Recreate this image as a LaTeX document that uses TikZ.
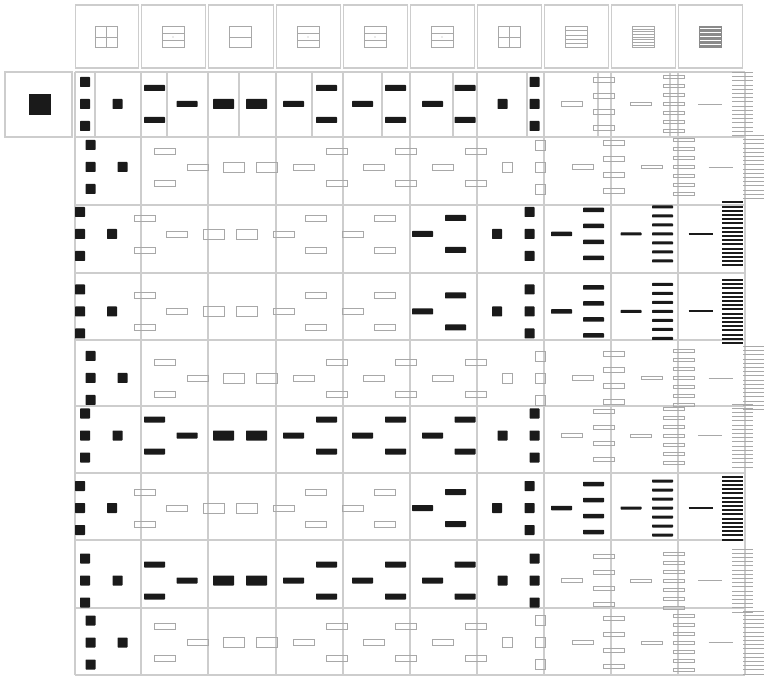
\documentclass[tikz,border=0pt]{standalone}
\definecolor{ink}{HTML}{1A1A1A}
\definecolor{gridc}{HTML}{CDCDCD}
\definecolor{holc}{HTML}{A8A8A8}
\definecolor{icond}{HTML}{8A8A8A}
\tikzset{
  blk/.style={fill=ink,draw=none,rounded corners=0.6pt},
  hol/.style={draw=holc,line width=0.7pt},
  blkl/.style={draw=ink,line width=2pt},
  holl/.style={draw=holc,line width=0.9pt},
  gridl/.style={draw=gridc,line width=1.5pt},
  subl/.style={draw=gridc,line width=1.2pt},
  icon/.style={draw=holc,line width=0.6pt},
  icondark/.style={draw=icond,line width=0.7pt}
}
% rectangle centred at (x,y) of width w, height h
\newcommand\Rc[5]{\path[#5] ({#1-#3/2},{#2-#4/2}) rectangle ({#1+#3/2},{#2+#4/2});}
% column element groups: {x single}{x group}{y}{style}
\newcommand\ColSq[4]{\Rc{#1}{#3}{10}{10}{#4}\foreach \d in {-22,0,22}{\Rc{#2}{#3+\d}{10}{10}{#4}}}
\newcommand\ColBar[4]{\Rc{#1}{#3}{21}{6}{#4}\Rc{#2}{#3-16}{21}{6}{#4}\Rc{#2}{#3+16}{21}{6}{#4}}
\newcommand\ColTwo[4]{\Rc{#1}{#3}{21}{10}{#4}\Rc{#2}{#3}{21}{10}{#4}}
\newcommand\ColFour[4]{\Rc{#1}{#3}{21}{4.5}{#4}\foreach \d in {-24,-8,8,24}{\Rc{#2}{#3+\d}{21}{4.5}{#4}}}
\newcommand\ColSeven[4]{\Rc{#1}{#3}{21}{3}{#4}\foreach \d in {-27,-18,...,27}{\Rc{#2}{#3+\d}{21}{3}{#4}}}
\newcommand\ColLines[4]{\draw[#4] ({#1-12},#3) -- ({#1+12},#3);
  \foreach \k in {0,...,15}{\draw[#4] ({#2-10.5},{#3-31.5+\k*4.2}) -- ({#2+10.5},{#3-31.5+\k*4.2});}}
% row types
\newcommand\RowA[1]{%
  \ColSq{117.5}{85}{#1}{blk}
  \ColBar{187}{154.5}{#1}{blk}
  \ColTwo{223.5}{256.5}{#1}{blk}
  \ColBar{293.5}{326.5}{#1}{blk}
  \ColBar{362.5}{395.5}{#1}{blk}
  \ColBar{432.5}{465}{#1}{blk}
  \ColSq{502.5}{534.5}{#1}{blk}
  \ColFour{571.5}{603.5}{#1}{hol}
  \ColSeven{641}{673.5}{#1}{hol}
  \ColLines{710}{742.5}{#1}{holl}}
\newcommand\RowB[1]{%
  \ColSq{122.5}{90.5}{#1}{blk}
  \ColBar{197.5}{165}{#1}{hol}
  \ColTwo{234}{266.5}{#1}{hol}
  \ColBar{303.5}{336.5}{#1}{hol}
  \ColBar{373.5}{405.5}{#1}{hol}
  \ColBar{442.5}{475.5}{#1}{hol}
  \ColSq{507.5}{540.5}{#1}{hol}
  \ColFour{582.5}{614}{#1}{hol}
  \ColSeven{651.5}{684}{#1}{hol}
  \ColLines{720.5}{753.5}{#1}{holl}}
\newcommand\RowC[1]{%
  \ColSq{112}{80}{#1}{blk}
  \ColBar{176.5}{144.5}{#1}{hol}
  \ColTwo{213.5}{246.5}{#1}{hol}
  \ColBar{283.5}{316}{#1}{hol}
  \ColBar{352.5}{385}{#1}{hol}
  \ColBar{422.5}{455.5}{#1}{blk}
  \ColSq{497}{529.5}{#1}{blk}
  \ColFour{561.5}{593.5}{#1}{blk}
  \ColSeven{631}{662.5}{#1}{blk}
  \ColLines{700.5}{732.5}{#1}{blkl}}
% header icons
\newcommand\IconCross[1]{\draw[icon] ({#1-11},26.5) rectangle ({#1+11},47.5);
  \draw[icon] (#1,26.5) -- (#1,47.5) ({#1-11},37) -- ({#1+11},37);}
\newcommand\IconRows[4]{\draw[#4] ({#1-11},26.5) rectangle ({#1+11},47.5);
  \foreach \k in {1,...,#3}{\draw[#4] ({#1-11},{26.5+21*\k/#2}) -- ({#1+11},{26.5+21*\k/#2});}}
\newcommand\IconThree[1]{\IconRows{#1}{3}{2}{icon}\fill[holc] (#1,37) circle (0.7);}

\begin{document}
\begin{tikzpicture}[x=1pt,y=-1pt]
\useasboundingbox (0,0) rectangle (764,679);
\fill[white] (0,0) rectangle (764,679);

% header boxes
\foreach \a/\b in {75/141,141/208,208/276,276/343,343/410,410/477,477/544,544/611,611/678,678/745}
  \draw[gridl] ({\a+0.5},5) rectangle ({\b-2.5},68);
% header icons
\IconCross{106.5}
\IconThree{173}
\IconRows{240.5}{2}{1}{icon}
\IconThree{308}
\IconThree{375}
\IconThree{442}
\IconCross{509}
\IconRows{576}{5}{4}{icon}
\IconRows{643}{8}{7}{icon}
\IconRows{710}{16}{15}{icondark}

% left box of first row
\draw[gridl] (5,72) rectangle (72,137);
\fill[ink] (29,94) rectangle (51,115);

% data grid
\foreach \y in {72,137,205,273,340,406,473,540,608,675}
  \draw[gridl] (75,\y) -- (745,\y);
\foreach \x in {75,141,208,276,343,410,477,544,611,678,745}
  \draw[gridl] (\x,72) -- (\x,675);
% extra dividers of the first row
\foreach \x in {95,167,239,312,382,453,527,598,670}
  \draw[subl] (\x,72) -- (\x,137);

% patterns, row by row
\RowA{104}
\RowB{167}
\RowC{234}
\RowC{311.5}
\RowB{378}
\RowA{435.5}
\RowC{508}
\RowA{580.5}
\RowB{642.5}
\end{tikzpicture}
\end{document}
